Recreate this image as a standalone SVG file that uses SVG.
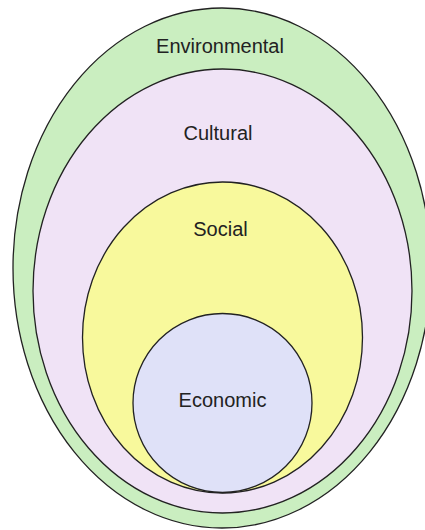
<svg xmlns="http://www.w3.org/2000/svg" width="425" height="530" viewBox="0 0 425 530">
<style>
.ring{stroke:#222;stroke-width:1.3}
.lbl{font-family:"Liberation Sans",Arial,sans-serif;font-size:20px;fill:#222;text-anchor:middle}
</style>
<rect width="425" height="530" fill="#ffffff"/>
<g id="environmental">
<ellipse class="ring" cx="222" cy="268" rx="209" ry="260" fill="#caeec0"/>
<text class="lbl" x="220" y="52.5">Environmental</text>
</g>
<g id="cultural">
<ellipse class="ring" cx="222.5" cy="291" rx="189.5" ry="222" fill="#f0e3f6"/>
<text class="lbl" x="218" y="140">Cultural</text>
</g>
<g id="social">
<ellipse class="ring" cx="222.5" cy="337.5" rx="140" ry="155.5" fill="#f8f99c"/>
<text class="lbl" x="220.5" y="235.5">Social</text>
</g>
<g id="economic">
<circle class="ring" cx="222.5" cy="403" r="89.5" fill="#dfe1f8"/>
<text class="lbl" x="222.5" y="407">Economic</text>
</g>
<g id="connectors"/>
</svg>
